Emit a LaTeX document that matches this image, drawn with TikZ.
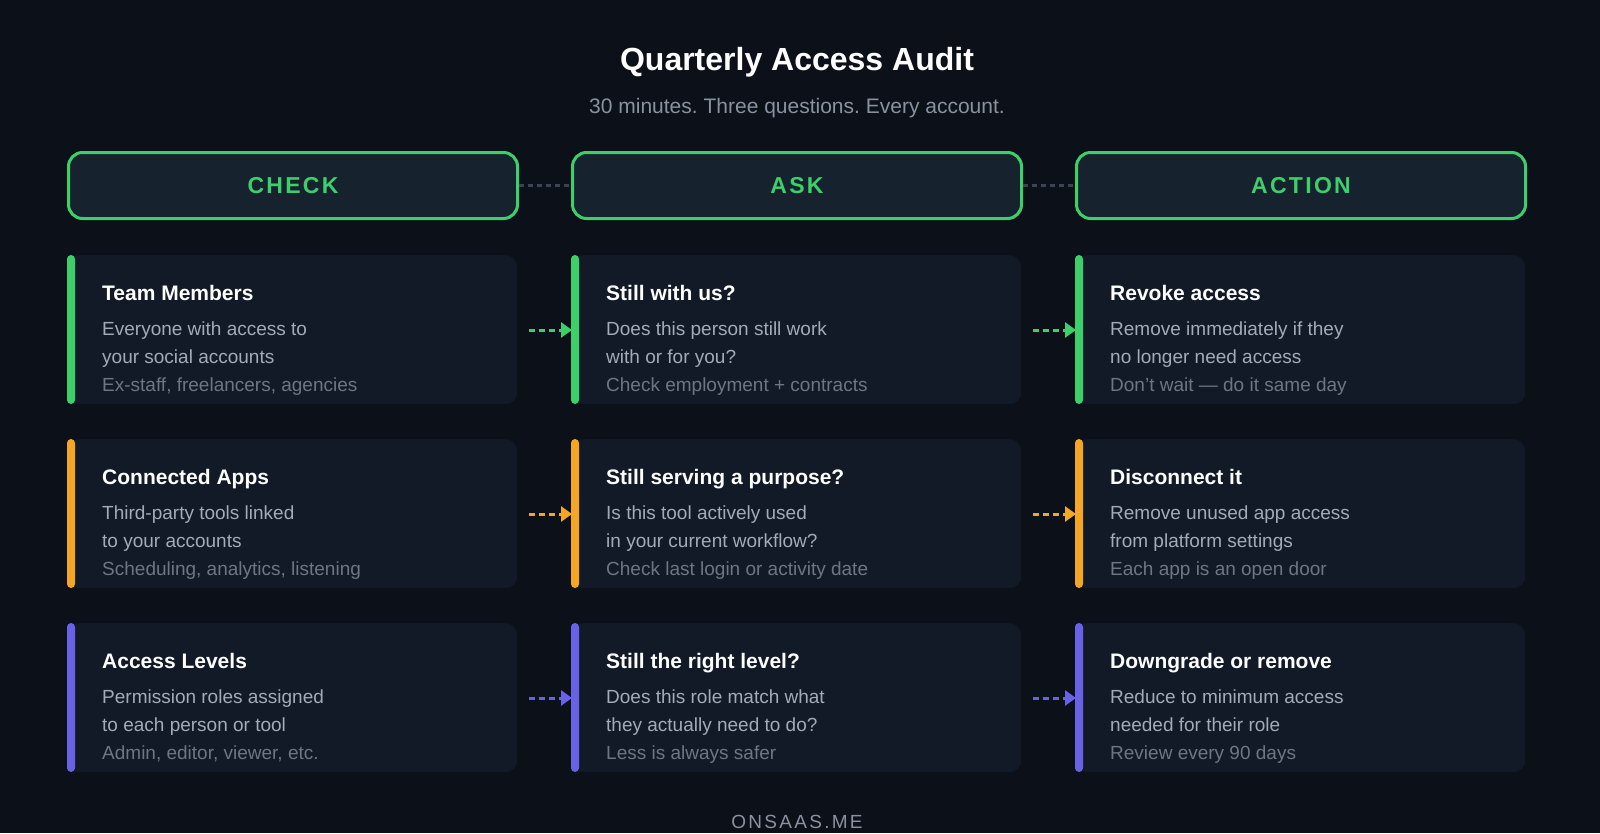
\documentclass[tikz,border=0pt]{standalone}
\usepackage{fontspec}
\setmainfont{Liberation Sans}
\usetikzlibrary{arrows.meta}
\frenchspacing
\definecolor{bg}{HTML}{0C1018}
\definecolor{card}{HTML}{121A28}
\definecolor{hdr}{HTML}{17222F}
\definecolor{gr}{HTML}{3DD06A}
\definecolor{orx}{HTML}{F5A623}
\definecolor{pu}{HTML}{6A62E6}
\definecolor{txt}{HTML}{A3AAB8}
\definecolor{hint}{HTML}{6E7685}
\definecolor{sub}{HTML}{8A92A0}
\definecolor{hcon}{HTML}{3A4452}
\begin{document}
\begin{tikzpicture}[x=1pt,y=-1pt,
 hdrbox/.style={draw=gr,line width=3pt,fill=hdr,rounded corners=14pt,minimum width=449pt,minimum height=66pt,text=gr,font=\bfseries\fontsize{23}{23}\selectfont,anchor=north west,inner sep=0pt},
 cardbox/.style={fill=card,rounded corners=12pt,minimum width=450pt,minimum height=149pt,anchor=north west,inner sep=0pt},
 ttl/.style={anchor=base west,text=white,font=\bfseries\fontsize{21}{21}\selectfont,inner sep=0pt},
 bod/.style={anchor=base west,text=txt,font=\fontsize{19}{19}\selectfont,inner sep=0pt},
 hnt/.style={anchor=base west,text=hint,font=\fontsize{19}{19}\selectfont,inner sep=0pt},
 conn/.style={dash pattern=on 6pt off 4pt,line width=3pt,-{Triangle[length=11pt,width=15pt]}}]
\fill[bg] (0,0) rectangle (1600,833);
\useasboundingbox (0,0) rectangle (1600,833);
\node[text=white,font=\bfseries\fontsize{32}{32}\selectfont] (title) at (797,62) {Quarterly Access Audit};
\node[text=sub,font=\fontsize{21}{21}\selectfont] (subt) at (797,108) {30 minutes. Three questions. Every account.};
\node[hdrbox] (h1) at (67,151) {\addfontfeature{LetterSpace=10}CHECK};
\node[hdrbox] (h2) at (571,151) {\addfontfeature{LetterSpace=10}ASK};
\node[hdrbox] (h3) at (1075,151) {\addfontfeature{LetterSpace=10}ACTION};
\draw[hcon,line width=2.5pt,dash pattern=on 5pt off 4pt] (h1.east) -- (h2.west);
\draw[hcon,line width=2.5pt,dash pattern=on 5pt off 4pt] (h2.east) -- (h3.west);
\node[text=hint!80,font=\fontsize{19}{19}\selectfont] (foot) at (797,822) {\addfontfeature{LetterSpace=12}ONSAAS.ME};
\newcommand{\mycard}[8]{%
 \node[cardbox] (#1) at (#2,#3) {};
 \fill[#4,rounded corners=4pt] (#2,#3) rectangle ++(8,149);
 \node[ttl] (#1t) at (#2+35,#3+45) {#5};
 \node[bod] (#1a) at (#2+35,#3+80) {#6};
 \node[bod] (#1b) at (#2+35,#3+108) {#7};
 \node[hnt] (#1c) at (#2+35,#3+136) {#8};
 \coordinate (#1in) at (#2+1,#3+75);
 \coordinate (#1out) at (#2+462,#3+75);
}
\mycard{a1}{67}{255}{gr}{Team Members}{Everyone with access to}{your social accounts}{Ex-staff, freelancers, agencies}
\mycard{b1}{571}{255}{gr}{Still with us?}{Does this person still work}{with or for you?}{Check employment + contracts}
\mycard{c1}{1075}{255}{gr}{Revoke access}{Remove immediately if they}{no longer need access}{Don't wait — do it same day}
\mycard{a2}{67}{439}{orx}{Connected Apps}{Third-party tools linked}{to your accounts}{Scheduling, analytics, listening}
\mycard{b2}{571}{439}{orx}{Still serving a purpose?}{Is this tool actively used}{in your current workflow?}{Check last login or activity date}
\mycard{c2}{1075}{439}{orx}{Disconnect it}{Remove unused app access}{from platform settings}{Each app is an open door}
\mycard{a3}{67}{623}{pu}{Access Levels}{Permission roles assigned}{to each person or tool}{Admin, editor, viewer, etc.}
\mycard{b3}{571}{623}{pu}{Still the right level?}{Does this role match what}{they actually need to do?}{Less is always safer}
\mycard{c3}{1075}{623}{pu}{Downgrade or remove}{Reduce to minimum access}{needed for their role}{Review every 90 days}
\draw[conn,gr] (a1out) -- (b1in);
\draw[conn,gr] (b1out) -- (c1in);
\draw[conn,orx] (a2out) -- (b2in);
\draw[conn,orx] (b2out) -- (c2in);
\draw[conn,pu] (a3out) -- (b3in);
\draw[conn,pu] (b3out) -- (c3in);
\end{tikzpicture}
\end{document}
